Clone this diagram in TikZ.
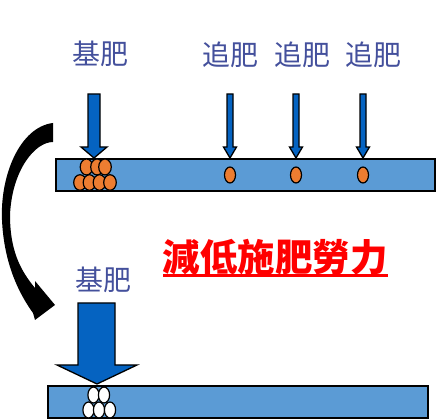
\documentclass[tikz,border=0pt]{standalone}
\usepackage{fontspec}
\newfontfamily\cjk{Noto Sans CJK JP}
\newfontfamily\cjktc{Noto Sans CJK TC}
\definecolor{barblue}{HTML}{5B9BD5}
\definecolor{arrblue}{HTML}{0563C1}
\definecolor{seedor}{HTML}{ED7D31}
\definecolor{labcol}{HTML}{44509C}
\definecolor{titred}{HTML}{FF0000}
\tikzset{
  bar/.style={draw=black,line width=2pt,fill=barblue},
  fatarrow/.style={draw=black,line width=1.3pt,fill=arrblue,line join=miter},
  seed/.style={draw=black,line width=1.2pt,fill=seedor},
  wseed/.style={draw=black,line width=1.2pt,fill=white},
  lab/.style={font=\cjk\fontsize{28}{28}\selectfont,text=labcol,inner sep=0pt},
  title/.style={font=\cjktc\bfseries\fontsize{37.5}{37.5}\selectfont,text=titred,inner sep=0pt},
}
\begin{document}
\begin{tikzpicture}[x=1pt,y=-1pt]
\useasboundingbox (0,0) rectangle (447,419);
% bars
\draw[bar] (56,159) rectangle (435,191);
\draw[bar] (48,386) rectangle (428,418);
% top base arrow
\draw[fatarrow] (88,94) -- (100,94) -- (100,147) -- (107,147) -- (94,158) -- (81,147) -- (88,147) -- cycle;
% small arrows
\foreach \cx in {230,296,363}{
  \draw[fatarrow] (\cx-3,94) -- (\cx+3,94) -- (\cx+3,147) -- (\cx+6.5,147) -- (\cx,158) -- (\cx-6.5,147) -- (\cx-3,147) -- cycle;
  \draw[seed] (\cx,175) ellipse [x radius=5.5,y radius=8];
}
% orange seeds
\foreach \sx in {86.5,97,105}{\draw[seed] (\sx,167) ellipse [x radius=6.3,y radius=8];}
\foreach \sx in {80,89.5,99.5,110}{\draw[seed] (\sx,182.5) ellipse [x radius=6.3,y radius=7.8];}
% bottom big arrow
\draw[fatarrow] (78,303) -- (115,303) -- (115,365) -- (137,365) -- (97,384) -- (57,365) -- (78,365) -- cycle;
% white seeds
\foreach \sx in {93.5,104}{\draw[wseed] (\sx,395) ellipse [x radius=5.6,y radius=8];}
\foreach \sx in {88.5,99,110}{\draw[wseed] (\sx,410) ellipse [x radius=5.6,y radius=8];}
% curved arrow
\fill[black] (53,123) .. controls (20,127) and (0,175) .. (2,220)
  .. controls (4,265) and (20,295) .. (33,313) -- (35,320) -- (55,305) -- (35,281) -- (35,288)
  .. controls (20,270) and (10,250) .. (10,215)
  .. controls (12,170) and (35,142) .. (53,142) -- cycle;
% labels
\node[lab] (kihi1) at (100,54) {基肥};
\node[lab] (tsui1) at (230,55) {追肥};
\node[lab] (tsui2) at (302,55) {追肥};
\node[lab] (tsui3) at (373,55) {追肥};
\node[lab] (kihi2) at (103,280) {基肥};
\node[title] (ttl) at (275,257) {減低施肥勞力};
\draw[titred,line width=2.5pt] (163,275.5) -- (388,275.5);
\end{tikzpicture}
\end{document}
